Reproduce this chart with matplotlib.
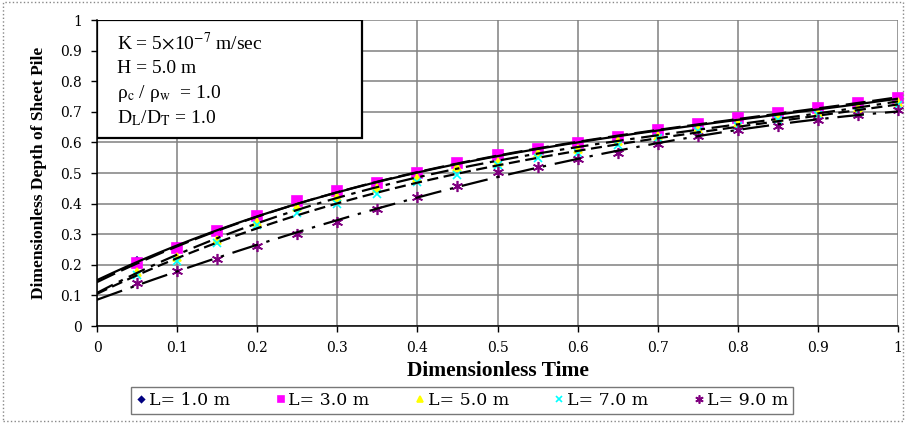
import numpy as np
import matplotlib
matplotlib.use('Agg')
import matplotlib.pyplot as plt
from matplotlib.patches import Rectangle

plt.rcParams['font.family'] = ['Liberation Serif', 'DejaVu Serif']
plt.rcParams['mathtext.fontset'] = 'stix'

# dimensionless time
t = [0.05, 0.10, 0.15, 0.20, 0.25, 0.30, 0.35, 0.40, 0.45, 0.50,
     0.55, 0.60, 0.65, 0.70, 0.75, 0.80, 0.85, 0.90, 0.95, 1.00]

# dimensionless depth of sheet pile for each pile length
L1 = [0.212, 0.257, 0.311, 0.361, 0.405, 0.440, 0.468, 0.500, 0.530, 0.556,
      0.578, 0.597, 0.617, 0.637, 0.658, 0.677, 0.694, 0.709, 0.725, 0.740]
L3 = [0.207, 0.254, 0.309, 0.360, 0.407, 0.440, 0.467, 0.500, 0.532, 0.560,
      0.579, 0.598, 0.619, 0.639, 0.661, 0.680, 0.696, 0.712, 0.729, 0.745]
L5 = [0.178, 0.225, 0.281, 0.341, 0.390, 0.421, 0.450, 0.484, 0.518, 0.535,
      0.565, 0.579, 0.603, 0.622, 0.644, 0.663, 0.680, 0.696, 0.712, 0.732]
L7 = [0.167, 0.214, 0.270, 0.330, 0.369, 0.400, 0.432, 0.470, 0.494, 0.525,
      0.549, 0.565, 0.592, 0.614, 0.636, 0.655, 0.674, 0.688, 0.701, 0.723]
L9 = [0.140, 0.180, 0.218, 0.260, 0.301, 0.341, 0.382, 0.423, 0.459, 0.503,
      0.521, 0.546, 0.567, 0.594, 0.620, 0.639, 0.655, 0.674, 0.688, 0.707]

labels = ['L= 1.0 m', 'L= 3.0 m', 'L= 5.0 m', 'L= 7.0 m', 'L= 9.0 m']
series = [L1, L3, L5, L7, L9]
colors = ['#000080', '#FF00FF', '#FFFF00', '#00FFFF', '#800080']
markers = ['D', 's', '^', 'x', (6, 2, 0)]
msizes = [4, 6.5, 6, 6, 8]
dashes = [(None, None), (9, 3), (8, 3, 2, 3), (5, 2.5), (12, 4, 1.5, 4)]

fig = plt.figure(figsize=(9.06, 4.23), dpi=100)
ax = fig.add_axes([0.1071, 0.2293, 0.8841, 0.7234])

tt = np.linspace(0, 1, 200)
for i in range(5):
    ax.plot(t, series[i], linestyle='none', marker=markers[i], color=colors[i],
            markersize=msizes[i], markeredgewidth=1.2, label=labels[i], zorder=3,
            clip_on=False)
    # trend line through each series
    c = np.polyfit(t, series[i], 3)
    ln, = ax.plot(tt, np.polyval(c, tt), color='black', linewidth=1.6, zorder=4)
    if dashes[i][0] is not None:
        ln.set_dashes(dashes[i])

ax.set_xlim(0, 1)
ax.set_ylim(0, 1)
ax.set_xticks(np.arange(0, 1.01, 0.1))
ax.set_yticks(np.arange(0, 1.01, 0.1))
ticklabs = ['0', '0.1', '0.2', '0.3', '0.4', '0.5', '0.6', '0.7', '0.8', '0.9', '1']
ax.set_xticklabels(ticklabs, family='DejaVu Serif')
ax.set_yticklabels(ticklabs, family='DejaVu Serif')
ax.tick_params(direction='out', length=4, width=1, labelsize=10, pad=7)
ax.grid(True, color='#808080', linewidth=1.1)
ax.set_axisbelow(True)
ax.spines['top'].set_visible(False)
ax.spines['right'].set_visible(False)
ax.spines['left'].set_linewidth(1.1)
ax.spines['bottom'].set_linewidth(1.1)

ax.set_xlabel('Dimensionless Time', fontsize=15.5, fontweight='bold', labelpad=4)
ax.set_ylabel('Dimensionless Depth of Sheet Pile', fontsize=12.5, fontweight='bold', labelpad=9)

# parameter box
ax.add_patch(Rectangle((0, 0.614), 0.331, 0.386, transform=ax.transAxes,
                       facecolor='white', edgecolor='black', linewidth=1.6, zorder=5))
box_lines = [r'K = 5$\times$10$^{\mathrm{-7}}$ m/sec',
             'H = 5.0 m',
             r'ρ$_{\mathrm{c}}$ / ρ$_{\mathrm{w}}$  = 1.0',
             r'D$_{\mathrm{L}}$/D$_{\mathrm{T}}$ = 1.0']
for k, s in enumerate(box_lines):
    ax.text(0.025, 0.925 - k * 0.082, s, transform=ax.transAxes, fontsize=14,
            va='center', ha='left', zorder=6)

leg = fig.legend(loc='center', bbox_to_anchor=(0.51, 0.053), ncol=5,
                 prop={'family': 'DejaVu Serif', 'size': 12.5},
                 frameon=True, fancybox=False, edgecolor='#555555',
                 handlelength=0.6, handletextpad=0.15, columnspacing=2.6,
                 borderpad=0.3, markerscale=0.75)
leg.get_frame().set_linewidth(1.0)

# dotted outer border
fig.patches.append(Rectangle((0.003, 0.004), 0.994, 0.992, transform=fig.transFigure,
                             fill=False, edgecolor='#888888', linestyle=':', linewidth=1))

fig.savefig('out.png', dpi=100)
